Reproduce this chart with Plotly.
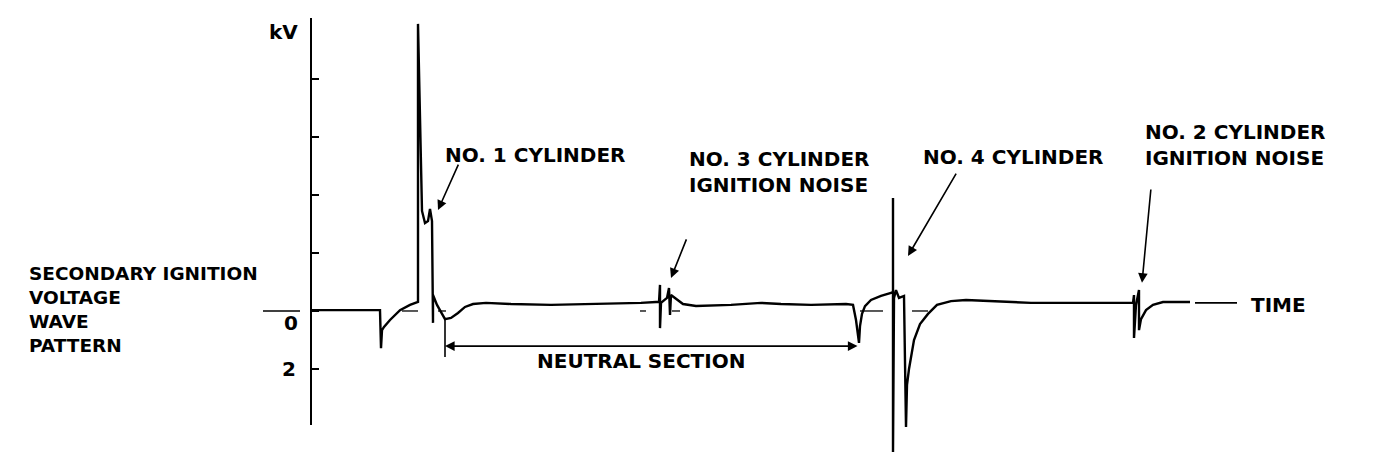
import plotly.graph_objects as go

# ---- data (time in arbitrary units from the kV axis, voltage in kV) ----
wave_t = [0, 69, 70, 71, 73, 79, 89, 99, 107, 107, 111, 114, 117, 119, 121, 122, 122, 126, 134, 140, 147, 154, 162,
          175, 200, 240, 290, 330, 345, 348, 349, 349, 350, 356, 358, 359, 360, 364, 372, 385, 420, 450, 470, 500,
          535, 542, 545, 548, 549, 551, 554, 560, 570, 580, 582, 582, 582, 583, 585, 588, 593, 595, 596, 598, 603,
          609, 617, 626, 640, 655, 680, 720, 780, 822, 823, 823, 825, 828, 828, 830, 835, 842, 852, 879]
wave_kv = [0.03, 0.03, -1.28, -0.66, -0.55, -0.31, 0.03, 0.21, 0.31, 9.90, 3.45, 3.03, 3.10, 3.52, 3.10, -0.41, 0.55,
           0.21, -0.28, -0.24, -0.07, 0.14, 0.24, 0.28, 0.24, 0.21, 0.24, 0.28, 0.31, 0.31, 0.90, -0.59, 0.28, 0.45,
           0.79, -0.14, 0.55, 0.45, 0.24, 0.17, 0.21, 0.28, 0.24, 0.21, 0.24, 0.21, -0.31, -1.10, -0.52, -0.10, 0.17,
           0.38, 0.52, 0.62, 0.66, 3.90, -4.86, 0.45, 0.72, 0.45, 0.52, -4.00, -2.55, -2.00, -1.00, -0.45, -0.10, 0.21,
           0.34, 0.38, 0.34, 0.28, 0.28, 0.28, 0.55, -0.93, 0.21, 0.72, -0.66, -0.28, 0.03, 0.21, 0.31, 0.31]

time_line_t = [884, 926]
time_line_kv = [0.28, 0.28]

zero_start = [-48, 91, 127, 329, 361, 549, 601]
zero_end = [-11, 107, 135, 335, 369, 572, 617]

neutral_start_t = 134
neutral_end_t = 548
neutral_kv = -1.21

kv_ticks = [-2, 0, 2, 4, 6, 8, 10.1]
kv_tick_labels = ["2", "0"]

cylinders = ["NO. 1 CYLINDER", "NO. 3 CYLINDER<br>IGNITION NOISE", "NO. 4 CYLINDER", "NO. 2 CYLINDER<br>IGNITION NOISE"]
cyl_tip_t = [127, 360, 597, 831]
cyl_tip_kv = [3.48, 1.14, 1.90, 0.97]

# ---- figure ----
FONT = dict(family="DejaVu Sans", size=20, color="black", weight="bold")
fig = go.Figure()

fig.add_trace(go.Scatter(x=wave_t, y=wave_kv, mode="lines", line=dict(color="black", width=2.4),
                         hoverinfo="skip", showlegend=False))
fig.add_trace(go.Scatter(x=time_line_t, y=time_line_kv, mode="lines", line=dict(color="black", width=1.6),
                         hoverinfo="skip", showlegend=False))
zx, zy = [], []
for a, b in zip(zero_start, zero_end):
    zx += [a, b, None]
    zy += [0, 0, None]
fig.add_trace(go.Scatter(x=zx, y=zy, mode="lines", line=dict(color="black", width=1.3),
                         hoverinfo="skip", showlegend=False))
# neutral section bracket mark
fig.add_trace(go.Scatter(x=[neutral_start_t, neutral_start_t], y=[-0.28, -1.59], mode="lines",
                         line=dict(color="black", width=1.6), hoverinfo="skip", showlegend=False))
# invisible trace to bring the kV axis into existence
fig.add_trace(go.Scatter(x=[0], y=[0], yaxis="y2", mode="markers", marker=dict(opacity=0),
                         hoverinfo="skip", showlegend=False))

ann = []
# neutral section double arrow
ann.append(dict(x=neutral_start_t, y=neutral_kv, ax=neutral_end_t, ay=neutral_kv, xref="x", yref="y",
                axref="x", ayref="y", showarrow=True, arrowside="end+start", arrowhead=2, arrowsize=1.2,
                arrowwidth=1.6, arrowcolor="black", text=""))
ann.append(dict(x=224, y=-1.72, xref="x", yref="y", text="NEUTRAL SECTION", showarrow=False,
                xanchor="left", yanchor="middle", font=FONT))

# cylinder labels
label_pos = [(132, 5.38), (376, 4.78), (610, 5.31), (832, 5.72)]
tail_pos = [(148, 5.10), (376, 2.52), (646, 4.79), (840, 4.24)]
for txt, (lx, ly), (tx, ty), px, py in zip(cylinders, label_pos, tail_pos, cyl_tip_t, cyl_tip_kv):
    ann.append(dict(x=lx, y=ly, xref="x", yref="y", text=txt, showarrow=False, xanchor="left",
                    yanchor="middle", align="left", font=FONT))
    ann.append(dict(x=px, y=py, ax=tx, ay=ty, xref="x", yref="y", axref="x", ayref="y", text="",
                    showarrow=True, arrowhead=2, arrowsize=1.2, arrowwidth=1.6, arrowcolor="black"))

# axis & side labels
ann.append(dict(x=-44, y=9.62, xref="x", yref="y", text="kV", showarrow=False, xanchor="left",
                yanchor="middle", font=FONT))
ann.append(dict(x=-284, y=0.05, xref="x", yref="y",
                text="SECONDARY IGNITION<br>VOLTAGE<br>WAVE<br>PATTERN", showarrow=False,
                xanchor="left", yanchor="middle", align="left",
                font=dict(family="DejaVu Sans", size=18.5, color="black", weight="bold")))
ann.append(dict(x=-11, y=-0.41, xref="x", yref="y", text=kv_tick_labels[1], showarrow=False,
                xanchor="right", yanchor="middle", font=FONT))
ann.append(dict(x=-13, y=-2.0, xref="x", yref="y", text=kv_tick_labels[0], showarrow=False,
                xanchor="right", yanchor="middle", font=FONT))
ann.append(dict(x=938, y=0.21, xref="x", yref="y", text="TIME", showarrow=False, xanchor="left",
                yanchor="middle", font=FONT))

fig.update_layout(
    width=1376, height=470,
    margin=dict(l=0, r=0, t=0, b=0),
    paper_bgcolor="white", plot_bgcolor="rgba(0,0,0,0)",
    showlegend=False,
    xaxis=dict(range=[-311, 1065], visible=False, fixedrange=True),
    yaxis=dict(range=[-5.483, 10.724], visible=False, fixedrange=True),
    yaxis2=dict(anchor="free", position=311 / 1376, side="left",
                domain=[45 / 470, 452 / 470], range=[-3.931, 10.103],
                showline=True, linecolor="black", linewidth=2,
                ticks="inside", ticklen=7, tickwidth=1.5, tickcolor="black",
                tickvals=kv_ticks, showticklabels=False, showgrid=False, zeroline=False,
                fixedrange=True),
    annotations=ann,
)

fig.write_html("out.html", config={"displayModeBar": False},
               post_script="document.body.style.margin='0';")
